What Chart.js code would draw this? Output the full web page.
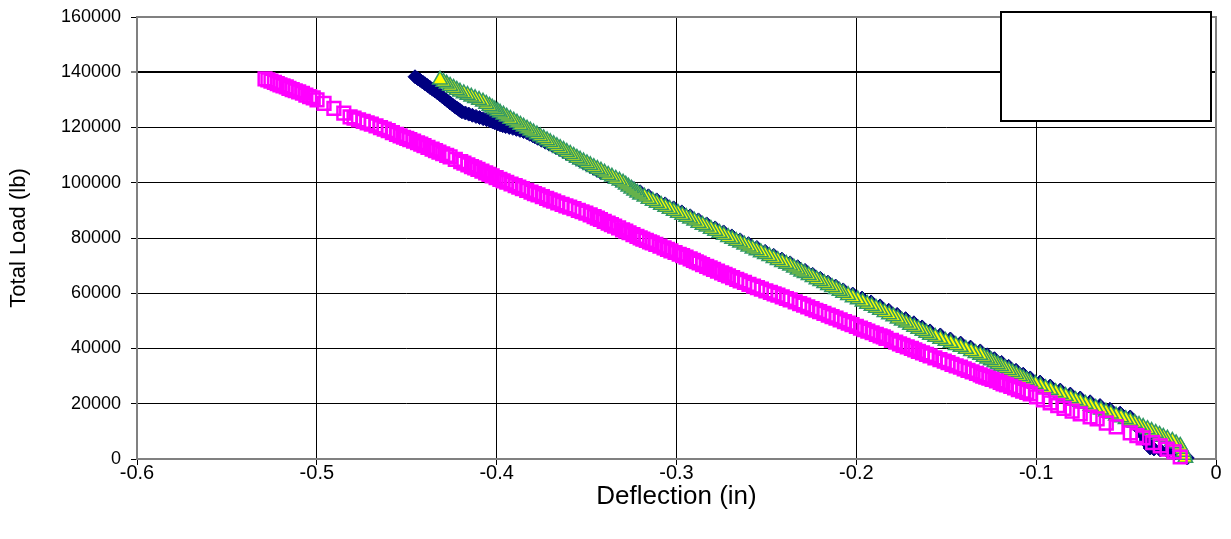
<!DOCTYPE html>
<html>
<head>
<meta charset="utf-8">
<script src="https://cdn.jsdelivr.net/npm/chart.js@4.4.1/dist/chart.umd.min.js"></script>
<style>
  html, body { margin: 0; padding: 0; background: #ffffff; }
  #wrap { width: 1231px; height: 539px; }
</style>
</head>
<body>
<div id="wrap"><canvas id="c" width="1231" height="539"></canvas></div>
<script>
// Axis ticks
const xTicks = [-0.6, -0.5, -0.4, -0.3, -0.2, -0.1, 0];
const xTickLabels = ['-0.6', '-0.5', '-0.4', '-0.3', '-0.2', '-0.1', '0'];
const yTicks = [0, 20000, 40000, 60000, 80000, 100000, 120000, 140000, 160000];
const yTickLabels = ['0', '20000', '40000', '60000', '80000', '100000', '120000', '140000', '160000'];

// Series A (navy diamonds): deflection (in) and total load (lb)
const seriesADeflection = [
  -0.0160, -0.0190, -0.0221, -0.0268, -0.0310, -0.0345, -0.0366, -0.0378, -0.0388, -0.0405, -0.0422, -0.0450, -0.0477,
  -0.0533, -0.0590, -0.0645, -0.0700, -0.0755,
  -0.0810, -0.0866, -0.0922, -0.0978, -0.1033,
  -0.1072, -0.1112, -0.1153, -0.1192, -0.1232, -0.1272, -0.1311,
  -0.1365, -0.1420, -0.1477, -0.1533, -0.1590,
  -0.1634, -0.1680, -0.1726, -0.1773, -0.1820, -0.1868,
  -0.1918, -0.1968, -0.2020, -0.2073,
  -0.2115, -0.2158, -0.2200, -0.2243, -0.2285, -0.2326, -0.2368,
  -0.2414, -0.2460, -0.2507, -0.2553, -0.2600, -0.2646,
  -0.2692, -0.2738, -0.2785, -0.2832, -0.2878, -0.2924,
  -0.2970, -0.3016, -0.3063, -0.3110, -0.3156, -0.3202,
  -0.3246, -0.3290, -0.3335, -0.3380, -0.3425,
  -0.3444, -0.3463, -0.3481, -0.3500, -0.3519, -0.3537, -0.3556, -0.3574, -0.3592, -0.3611, -0.3629, -0.3647,
  -0.3668, -0.3688, -0.3709, -0.3730, -0.3751, -0.3772, -0.3786, -0.3800, -0.3816, -0.3831,
  -0.3850, -0.3870, -0.3890, -0.3910, -0.3930, -0.3950, -0.3966, -0.3981,
  -0.3995, -0.4010, -0.4023, -0.4037,
  -0.4056, -0.4075, -0.4095, -0.4115, -0.4135, -0.4155, -0.4174, -0.4193,
  -0.4203, -0.4212, -0.4222, -0.4232,
  -0.4246, -0.4260, -0.4274, -0.4288, -0.4302, -0.4315,
  -0.4329, -0.4343, -0.4357, -0.4371, -0.4385, -0.4399,
  -0.4412, -0.4425, -0.4440, -0.4454
];
const seriesALoad = [
  360, 1250, 2170, 2750, 3260, 3650, 3980, 5400, 6880, 8700, 10500, 12900, 15210,
  16600, 18000, 19350, 20700, 22090,
  23500, 24950, 26400, 27850, 29340,
  30700, 32100, 33550, 34950, 36300, 37700, 39120,
  40500, 41950, 43450, 44900, 46360,
  47800, 49300, 50800, 52350, 53850, 55420,
  56850, 58250, 59700, 61210,
  62600, 64000, 65400, 66850, 68250, 69600, 70990,
  72350, 73750, 75150, 76550, 77950, 79320,
  80750, 82200, 83650, 85100, 86550, 88010,
  89450, 90900, 92350, 93800, 95250, 96710,
  98150, 99600, 101050, 102500, 103950,
  104620, 105300, 105980, 106650, 107300, 107950, 108620, 109300, 109950, 110600, 111260, 111920,
  112600, 113300, 114000, 114700, 115400, 116100, 116580, 117050, 117560, 118080,
  118520, 118950, 119330, 119700, 120020, 120350, 120660, 120970,
  121330, 121700, 122060, 122420,
  122810, 123200, 123600, 124000, 124430, 124850, 125260, 125680,
  126140, 126600, 127050, 127490,
  128200, 128900, 129650, 130400, 131120, 131840,
  132520, 133200, 133850, 134500, 135170, 135830,
  136470, 137100, 137730, 138360
];

// Series B (magenta open squares)
const seriesBDeflection = [
  -0.0199, -0.0233, -0.0272, -0.0310, -0.0352, -0.0405, -0.0440, -0.0477, -0.0555, -0.0610, -0.0661, -0.0700, -0.0755,
  -0.0800, -0.0845, -0.0880, -0.0922, -0.0960, -0.0998, -0.1033,
  -0.1052, -0.1075, -0.1099, -0.1120, -0.1141, -0.1165, -0.1184, -0.1200, -0.1221, -0.1245, -0.1263, -0.1280, -0.1297, -0.1311,
  -0.1332, -0.1356, -0.1379, -0.1400, -0.1421, -0.1445, -0.1468, -0.1490, -0.1511, -0.1535, -0.1563, -0.1590,
  -0.1610, -0.1632, -0.1655, -0.1675, -0.1694, -0.1717, -0.1740, -0.1760, -0.1781, -0.1805, -0.1835, -0.1850, -0.1868,
  -0.1889, -0.1912, -0.1936, -0.1957, -0.1977, -0.2000, -0.2024, -0.2045, -0.2066, -0.2090,
  -0.2113, -0.2135, -0.2156, -0.2180, -0.2204, -0.2225, -0.2246, -0.2270, -0.2293, -0.2315, -0.2340, -0.2368,
  -0.2389, -0.2412, -0.2436, -0.2457, -0.2478, -0.2503, -0.2528, -0.2550, -0.2572, -0.2597, -0.2622, -0.2646,
  -0.2665, -0.2688, -0.2711, -0.2730, -0.2749, -0.2772, -0.2794, -0.2813, -0.2832, -0.2855, -0.2874, -0.2890, -0.2906, -0.2924,
  -0.2947, -0.2966, -0.2985, -0.3008, -0.3031, -0.3050, -0.3069, -0.3092, -0.3115, -0.3135, -0.3150, -0.3168, -0.3187, -0.3202,
  -0.3220, -0.3242, -0.3264, -0.3282, -0.3300, -0.3322, -0.3344, -0.3362, -0.3380, -0.3402, -0.3423, -0.3440, -0.3458, -0.3480,
  -0.3504, -0.3525, -0.3546, -0.3570, -0.3594, -0.3615, -0.3636, -0.3660, -0.3683, -0.3703,
  -0.3722, -0.3746, -0.3770, -0.3790, -0.3809, -0.3833, -0.3857, -0.3877, -0.3897, -0.3920, -0.3944, -0.3964,
  -0.3982, -0.4003, -0.4025, -0.4043, -0.4061, -0.4082, -0.4104, -0.4122, -0.4140, -0.4160, -0.4182, -0.4200, -0.4230, -0.4259,
  -0.4278, -0.4300, -0.4321, -0.4340, -0.4359, -0.4382, -0.4404, -0.4422, -0.4440, -0.4462, -0.4483, -0.4500, -0.4518, -0.4537,
  -0.4557, -0.4580, -0.4603, -0.4625, -0.4646, -0.4671, -0.4697, -0.4720, -0.4742, -0.4768, -0.4793, -0.4815,
  -0.4850, -0.4905, -0.4960, -0.4999,
  -0.5020, -0.5040, -0.5061, -0.5080, -0.5101, -0.5120, -0.5137, -0.5155, -0.5170, -0.5188, -0.5205, -0.5220, -0.5236, -0.5255, -0.5272, -0.5288
];
const seriesBLoad = [
  720, 2540, 3600, 4710, 5950, 7610, 8500, 9420, 11590, 13000, 14490, 15200, 16300,
  17300, 18350, 19300, 20280, 21400, 22500, 23540,
  24100, 24600, 25130, 25700, 26270, 26800, 27220, 27700, 28280, 28800, 29230, 29600, 29990, 30420,
  31000, 31550, 32080, 32650, 33230, 33750, 34280, 34850, 35430, 35950, 36600, 37310,
  37880, 38400, 38920, 39500, 40080, 40600, 41120, 41700, 42330, 42900, 43700, 44180, 44550,
  45090, 45700, 46300, 46850, 47380, 48000, 48640, 49200, 49720, 50350,
  50970, 51500, 52060, 52700, 53330, 53850, 54400, 55050, 55700, 56250, 56870, 57590,
  58100, 58700, 59300, 59800, 60300, 60900, 61520, 62050, 62600, 63250, 63900, 64470,
  65000, 65650, 66300, 66850, 67400, 68050, 68680, 69200, 69750, 70400, 70950, 71400, 71880, 72440,
  73050, 73600, 74120, 74750, 75380, 75900, 76430, 77050, 77680, 78200, 78600, 79100, 79620, 80050,
  80600, 81250, 81900, 82450, 82980, 83650, 84300, 84850, 85400, 86050, 86700, 87200, 87750, 88380,
  89000, 89500, 90000, 90600, 91180, 91650, 92150, 92750, 93330, 93810,
  94330, 94950, 95580, 96100, 96620, 97250, 97880, 98400, 98930, 99550, 100180, 100690,
  101220, 101850, 102480, 103000, 103550, 104200, 104830, 105350, 105870, 106500, 107120, 107650, 108500, 109380,
  109900, 110500, 111120, 111650, 112180, 112800, 113430, 113950, 114480, 115100, 115630, 116050, 116470, 116990,
  117520, 118150, 118830, 119400, 119960, 120610, 121220, 121700, 122190, 122800, 123400, 123870,
  125200, 126900, 128700, 130030,
  130700, 131200, 131750, 132400, 132900, 133300, 133700, 134200, 134700, 135100, 135450, 135900, 136300, 136800, 137250, 137640
];

// Series C (yellow triangles, green outline)
const seriesCDeflection = [
  -0.0171, -0.0176, -0.0182, -0.0190, -0.0199, -0.0222, -0.0243, -0.0270, -0.0293,
  -0.0314, -0.0335, -0.0358, -0.0381, -0.0405, -0.0428, -0.0452, -0.0477,
  -0.0502, -0.0528, -0.0556, -0.0585, -0.0612, -0.0640, -0.0669, -0.0698, -0.0726, -0.0755,
  -0.0781, -0.0808, -0.0836, -0.0864, -0.0892, -0.0920, -0.0948, -0.0976, -0.1004, -0.1033,
  -0.1052, -0.1071, -0.1091, -0.1112, -0.1132, -0.1152, -0.1174, -0.1195, -0.1214, -0.1232, -0.1252, -0.1272, -0.1291, -0.1311,
  -0.1337, -0.1362, -0.1391, -0.1420, -0.1447, -0.1475, -0.1504, -0.1533, -0.1561, -0.1590,
  -0.1611, -0.1632, -0.1655, -0.1678, -0.1701, -0.1724, -0.1747, -0.1770, -0.1794, -0.1818, -0.1843, -0.1868,
  -0.1891, -0.1915, -0.1940, -0.1965, -0.1992, -0.2020, -0.2046, -0.2073,
  -0.2093, -0.2113, -0.2135, -0.2157, -0.2178, -0.2200, -0.2221, -0.2243, -0.2265, -0.2287, -0.2306, -0.2326, -0.2347, -0.2368,
  -0.2390, -0.2413, -0.2437, -0.2460, -0.2484, -0.2508, -0.2531, -0.2555, -0.2577, -0.2600, -0.2623, -0.2646,
  -0.2668, -0.2690, -0.2713, -0.2737, -0.2761, -0.2785, -0.2809, -0.2833, -0.2855, -0.2878, -0.2901, -0.2924,
  -0.2946, -0.2968, -0.2992, -0.3015, -0.3038, -0.3062, -0.3086, -0.3110, -0.3132, -0.3155, -0.3178, -0.3202,
  -0.3218, -0.3235, -0.3251, -0.3267, -0.3282, -0.3297,
  -0.3317, -0.3338, -0.3359, -0.3380, -0.3400, -0.3420, -0.3440, -0.3460, -0.3479, -0.3498, -0.3517, -0.3536,
  -0.3554, -0.3572, -0.3591, -0.3610, -0.3628, -0.3647, -0.3665, -0.3683, -0.3702, -0.3720, -0.3739, -0.3758, -0.3776, -0.3795, -0.3813, -0.3831,
  -0.3850, -0.3868, -0.3887, -0.3905, -0.3924, -0.3944, -0.3962, -0.3981,
  -0.3995, -0.4010, -0.4025, -0.4040, -0.4058, -0.4076,
  -0.4098, -0.4120, -0.4141, -0.4162, -0.4183, -0.4204,
  -0.4222, -0.4240, -0.4259, -0.4278, -0.4296, -0.4315
];
const seriesCLoad = [
  360, 1450, 2540, 3600, 4710, 5650, 6520, 7300, 7970,
  8700, 9400, 10100, 10800, 11550, 12300, 13000, 13760,
  14400, 15050, 15700, 16400, 17100, 17800, 18500, 19200, 19930, 20650,
  21300, 22000, 22780, 23500, 24200, 24950, 25650, 26400, 27120, 27890,
  28520, 29200, 29920, 30700, 31380, 32100, 32880, 33600, 34230, 34900, 35620, 36300, 36960, 37670,
  38300, 39000, 39780, 40500, 41200, 41950, 42700, 43450, 44150, 44910,
  45620, 46300, 47080, 47800, 48520, 49300, 50040, 50800, 51600, 52350, 53130, 53970,
  54700, 55400, 56120, 56900, 57700, 58500, 59320, 60130,
  60800, 61450, 62200, 62900, 63580, 64300, 65000, 65750, 66500, 67200, 67820, 68500, 69200, 69910,
  70600, 71250, 71980, 72650, 73400, 74100, 74780, 75500, 76150, 76850, 77580, 78240,
  78900, 79600, 80300, 81050, 81820, 82550, 83280, 84050, 84750, 85450, 86200, 86930,
  87600, 88300, 89050, 89750, 90500, 91200, 91980, 92700, 93430, 94150, 94900, 95620,
  96350, 97100, 97800, 98550, 99250, 99970,
  100700, 101400, 102130, 102850, 103580, 104300, 104960, 105650, 106320, 107000, 107650, 108300,
  109000, 109700, 110420, 111100, 111820, 112500, 113200, 113900, 114620, 115300, 116020, 116750, 117430, 118150, 118850, 119530,
  120250, 120950, 121680, 122400, 123100, 123850, 124600, 125320,
  125900, 126500, 127170, 127800, 128550, 129310,
  129950, 130550, 131130, 131750, 132350, 132930,
  133600, 134300, 135050, 135800, 136500, 137270
];

const toPoints = (xs, ys) => xs.map((x, i) => ({ x: x, y: ys[i] }));

const FONT = '"Liberation Sans", Arial, Helvetica, sans-serif';

// Keep the plot area fixed: no extra room for overhanging edge labels
function noEdgePadding(scale) {
  scale.paddingTop = 0;
  scale.paddingBottom = 0;
  scale.paddingLeft = 0;
  scale.paddingRight = 0;
}

// Gray frame around the plot area plus the empty legend box
const framePlugin = {
  id: 'plotFrame',
  beforeDatasetsDraw(chart) {
    const a = chart.chartArea;
    const ctx = chart.ctx;
    ctx.save();
    ctx.strokeStyle = '#808080';
    ctx.lineWidth = 2;
    ctx.strokeRect(a.left, a.top, a.right - a.left, a.bottom - a.top);
    ctx.restore();
  },
  afterDraw(chart) {
    const a = chart.chartArea;
    const ctx = chart.ctx;
    ctx.save();
    ctx.fillStyle = '#ffffff';
    ctx.strokeStyle = '#000000';
    ctx.lineWidth = 2;
    const bx = a.right - 215, by = a.top - 5, bw = 210, bh = 109;
    ctx.fillRect(bx, by, bw, bh);
    ctx.strokeRect(bx, by, bw, bh);
    ctx.restore();
  }
};

new Chart(document.getElementById('c'), {
  type: 'scatter',
  data: {
    datasets: [
      {
        label: 'Series B',
        data: toPoints(seriesBDeflection, seriesBLoad),
        pointStyle: 'rect',
        pointRadius: 9,
        pointBackgroundColor: 'rgba(0,0,0,0)',
        pointBorderColor: '#FF00FF',
        pointBorderWidth: 2.5,
        showLine: false,
        clip: false,
        order: 0
      },
      {
        label: 'Series C',
        data: toPoints(seriesCDeflection, seriesCLoad),
        pointStyle: 'triangle',
        pointRadius: 8.5,
        pointBackgroundColor: '#FFFF00',
        pointBorderColor: '#339966',
        pointBorderWidth: 1.5,
        showLine: false,
        clip: false,
        order: 1
      },
      {
        label: 'Series A',
        data: toPoints(seriesADeflection, seriesALoad),
        pointStyle: 'rectRot',
        pointRadius: 7,
        pointBackgroundColor: '#000080',
        pointBorderColor: '#000080',
        pointBorderWidth: 1,
        showLine: false,
        clip: false,
        order: 2
      }
    ]
  },
  options: {
    responsive: false,
    animation: false,
    devicePixelRatio: 1,
    layout: { padding: { left: 0, right: 15, top: 17, bottom: 0 } },
    plugins: {
      legend: { display: false },
      tooltip: { enabled: false }
    },
    scales: {
      x: {
        type: 'linear',
        min: -0.6,
        max: 0,
        afterBuildTicks(scale) { scale.ticks = xTicks.map(v => ({ value: v })); },
        afterFit(scale) { scale.height = 80; noEdgePadding(scale); },
        border: { display: false },
        grid: {
          color: '#000000',
          lineWidth: 1,
          drawTicks: true,
          tickLength: 6,
          tickColor: '#000000'
        },
        ticks: {
          color: '#000000',
          padding: -2,
          maxRotation: 0,
          font: { family: FONT, size: 20, lineHeight: 1 },
          callback: (v, i) => xTickLabels[i]
        },
        title: {
          display: true,
          text: 'Deflection (in)',
          color: '#000000',
          padding: { top: 0, bottom: 27 },
          font: { family: FONT, size: 26 }
        }
      },
      y: {
        type: 'linear',
        min: 0,
        max: 160000,
        afterBuildTicks(scale) { scale.ticks = yTicks.map(v => ({ value: v })); },
        afterFit(scale) { scale.width = 137; noEdgePadding(scale); },
        border: { display: false },
        grid: {
          color: '#000000',
          lineWidth: (c) => (c.tick && c.tick.value === 140000 ? 2 : 1),
          drawTicks: true,
          tickLength: 6,
          tickColor: '#000000',
          tickWidth: 1
        },
        ticks: {
          color: '#000000',
          padding: 10,
          font: { family: FONT, size: 18 },
          callback: (v, i) => yTickLabels[i]
        },
        title: {
          display: true,
          text: 'Total Load (lb)',
          color: '#000000',
          padding: { top: 6, bottom: 0 },
          font: { family: FONT, size: 22 }
        }
      }
    }
  },
  plugins: [framePlugin]
});
</script>
</body>
</html>
